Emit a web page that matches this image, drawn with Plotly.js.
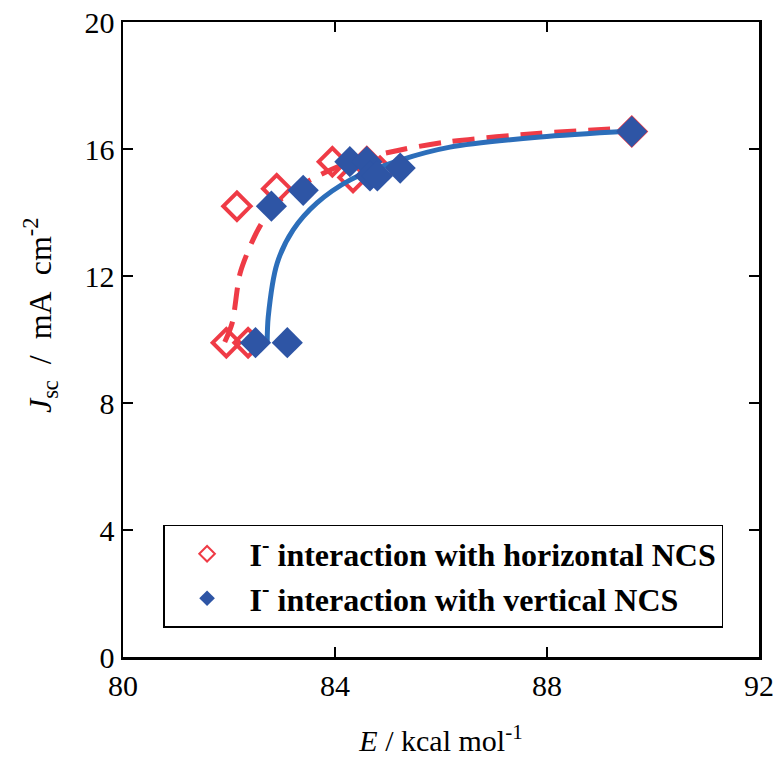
<!DOCTYPE html>
<html><head><meta charset="utf-8">
<script src="https://cdn.plot.ly/plotly-3.0.1.min.js"></script>
<style>body{margin:0;background:#fff}</style>
</head><body><div id="c" style="width:783px;height:763px"></div>
<script>
// Data
const horizE = [81.95, 82.36, 82.15, 82.9, 83.95, 84.34, 84.6, 84.85, 89.6];
const horizJ = [9.9, 9.9, 14.2, 14.75, 15.6, 15.1, 15.6, 15.3, 16.55];
const vertE = [82.5, 83.1, 82.8, 83.4, 84.28, 84.6, 84.66, 84.8, 85.23, 89.6];
const vertJ = [9.9, 9.9, 14.2, 14.7, 15.6, 15.6, 15.15, 15.15, 15.4, 16.55];
// fitted curves
const horizFitE = [81.92, 82.06, 82.21, 82.45, 82.62, 82.96, 83.53, 84.23, 85.23, 86.11, 87.87, 89.6];
const horizFitJ = [9.92, 10.52, 12.09, 13.13, 13.67, 14.39, 15.02, 15.56, 15.97, 16.22, 16.5, 16.66];
const vertFitE = [82.72, 82.74, 82.91, 83.21, 83.66, 84.28, 85.23, 86.17, 87.87, 89.57];
const vertFitJ = [9.89, 10.71, 12.41, 13.45, 14.3, 15.02, 15.65, 16.06, 16.38, 16.57];
const xTicks = [80, 84, 88, 92];
const yTicks = [0, 4, 8, 12, 16, 20];
const red = '#EF3B46', blueM = '#2E55A5', blueL = '#2C6EBA';
const serif = '"Liberation Serif", "Times New Roman", serif';
const traces = [
  {x: horizFitE, y: horizFitJ, mode: 'lines', line: {color: red, width: 5, dash: '22px,12px', shape: 'spline', smoothing: 0.8}, showlegend: false},
  {x: horizE, y: horizJ, mode: 'markers', name: 'I<sup>-</sup> interaction with horizontal NCS',
   marker: {symbol: 'diamond-open', size: 21, color: red, line: {width: 4, color: red}}},
  {x: vertFitE, y: vertFitJ, mode: 'lines', line: {color: blueL, width: 5, shape: 'spline', smoothing: 0.8}, showlegend: false},
  {x: vertE, y: vertJ, mode: 'markers', name: 'I<sup>-</sup> interaction with vertical NCS',
   marker: {symbol: 'diamond', size: 24, color: blueM, line: {width: 0}}}
];
const axisCommon = {showline: true, mirror: 'ticks', linecolor: '#000', linewidth: 2.5, ticks: 'inside', ticklen: 10, tickwidth: 2.5, tickcolor: '#000', showgrid: false, zeroline: false, tickfont: {family: serif, size: 30, color: '#000'}};
const layout = {
  width: 783, height: 763,
  margin: {l: 123, r: 24, t: 22, b: 106},
  paper_bgcolor: '#fff', plot_bgcolor: '#fff',
  font: {family: serif, color: '#000'},
  xaxis: Object.assign({}, axisCommon, {range: [80, 92], tickvals: xTicks, ticktext: xTicks.map(String),
    title: {text: '<i>E</i> / kcal mol<sup>-1</sup>', font: {family: serif, size: 30, color: '#000'}, standoff: 30}}),
  yaxis: Object.assign({}, axisCommon, {range: [0, 20], tickvals: yTicks, ticktext: yTicks.map(String)}),
  annotations: [{text: '<i>J</i><sub>sc</sub>&nbsp; /&nbsp; mA&nbsp; cm<sup>-2</sup>', xref: 'paper', yref: 'paper', x: -0.13, y: 0.539,
    xanchor: 'center', yanchor: 'middle', textangle: -90, showarrow: false, font: {family: serif, size: 32, color: '#000'}}],
  legend: {x: 0.063, y: 0.208, xanchor: 'left', yanchor: 'top', bordercolor: '#000', borderwidth: 1.5, bgcolor: '#fff',
    font: {family: serif, size: 32, color: '#000', weight: 'bold'}, itemsizing: 'constant', itemwidth: 75, tracegroupgap: 0},
  showlegend: true
};
Plotly.newPlot('c', traces, layout, {displayModeBar: false, staticPlot: true});
</script></body></html>
